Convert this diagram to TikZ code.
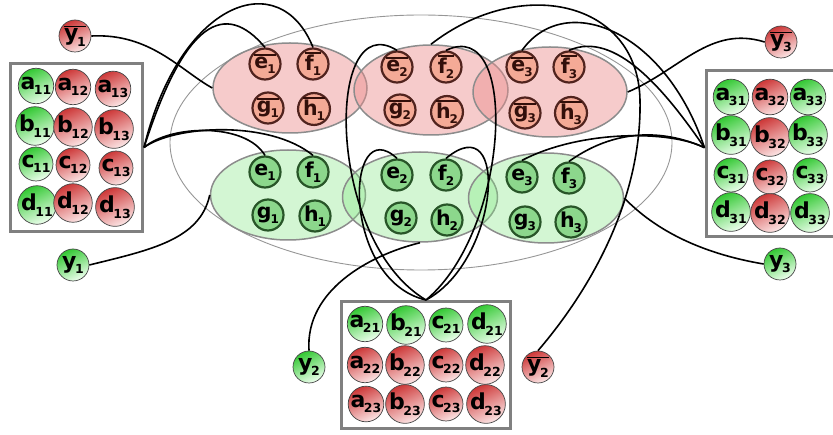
\documentclass[tikz,border=0pt]{standalone}
\usepackage{fontspec}
\setmainfont{DejaVu Sans}
\usetikzlibrary{shapes.geometric}
\definecolor{gtop}{RGB}{50,200,50}
\definecolor{gbot}{RGB}{238,255,238}
\definecolor{rtop}{RGB}{205,55,55}
\definecolor{rbot}{RGB}{252,230,230}
\definecolor{cborder}{RGB}{70,70,70}
\definecolor{salmon}{RGB}{244,170,150}
\definecolor{brownb}{RGB}{80,35,30}
\definecolor{browntxt}{RGB}{50,15,10}
\definecolor{lgreen}{RGB}{140,215,140}
\definecolor{dgreenb}{RGB}{40,85,40}
\definecolor{ellred}{RGB}{235,140,140}
\definecolor{ellgreen}{RGB}{130,230,130}
\definecolor{ellgray}{RGB}{140,140,140}
\definecolor{biggray}{RGB}{150,150,150}
\definecolor{boxgray}{RGB}{128,128,128}
\newcommand\lab[2]{{\fontsize{22}{22}\selectfont\bfseries #1}\kern-1.5pt\raisebox{-5.5pt}{\fontsize{12.5}{12.5}\selectfont\bfseries #2}}
\newcommand\elab[2]{{\fontsize{20.5}{20.5}\selectfont\bfseries #1}\kern-1pt\raisebox{-5pt}{\fontsize{12}{12}\selectfont\bfseries #2}}
\newcommand\obar[1]{\vbox{\hrule height 1.4pt\kern1.2pt\hbox{#1}}}
\tikzset{
  bc/.style={circle, minimum size=32pt, inner sep=0pt, draw=cborder, line width=0.7pt},
  gcirc/.style={bc, top color=gtop, bottom color=gbot, shading angle=25},
  rcirc/.style={bc, top color=rtop, bottom color=rbot, shading angle=25},
  ercirc/.style={circle, minimum size=31pt, inner sep=0pt, draw=brownb, line width=2.2pt, fill=salmon, text=browntxt},
  egcirc/.style={circle, minimum size=31pt, inner sep=0pt, draw=dgreenb, line width=2.2pt, fill=lgreen, text=black},
  rell/.style={ellipse, minimum width=154pt, minimum height=90pt, inner sep=0pt, draw=ellgray, line width=1.5pt, fill=ellred, fill opacity=0.45},
  gell/.style={ellipse, minimum width=155pt, minimum height=90pt, inner sep=0pt, draw=ellgray, line width=1.5pt, fill=ellgreen, fill opacity=0.35},
  bigell/.style={ellipse, minimum width=502pt, minimum height=255pt, inner sep=0pt, draw=biggray, line width=0.9pt},
  boxst/.style={rectangle, draw=boxgray, line width=3pt, fill=white, inner sep=0pt},
  conn/.style={black, line width=1.6pt},
}
\begin{document}
\begin{tikzpicture}[x=1pt,y=-1pt]
\useasboundingbox (0,0) rectangle (833,435);
% big ellipse
\node[bigell] (BIG) at (421,142.5) {};
% group ellipses
\node[rell] (R1) at (290,88) {};
\node[rell] (R2) at (431,90) {};
\node[rell] (R3) at (550,92) {};
\node[gell] (G1) at (288,195) {};
\node[gell] (G2) at (420,197) {};
\node[gell] (G3) at (546,198) {};
% boxes
\node[boxst, minimum width=132pt, minimum height=168pt] (LB) at (76.5,147.5) {};
\node[boxst, minimum width=169pt, minimum height=127pt] (BB) at (426,365) {};
\node[boxst, minimum width=130pt, minimum height=166pt] (RB) at (771,153.5) {};
% left box circles
\node[gcirc] (a11) at (36,86) {\lab{a}{11}};
\node[rcirc] (a12) at (73,87) {\lab{a}{12}};
\node[rcirc] (a13) at (113,89) {\lab{a}{13}};
\node[gcirc] (b11) at (35,126) {\lab{b}{11}};
\node[rcirc] (b12) at (73,127) {\lab{b}{12}};
\node[rcirc] (b13) at (114,129) {\lab{b}{13}};
\node[gcirc] (c11) at (36,164) {\lab{c}{11}};
\node[rcirc] (c12) at (73,165) {\lab{c}{12}};
\node[rcirc] (c13) at (116,168) {\lab{c}{13}};
\node[gcirc] (d11) at (37,205) {\lab{d}{11}};
\node[rcirc] (d12) at (73,203) {\lab{d}{12}};
\node[rcirc] (d13) at (115,207) {\lab{d}{13}};
% bottom box circles
\node[gcirc] (a21) at (365,324) {\lab{a}{21}};
\node[gcirc] (b21) at (406,325) {\lab{b}{21}};
\node[gcirc] (c21) at (446,325) {\lab{c}{21}};
\node[gcirc] (d21) at (487,324) {\lab{d}{21}};
\node[rcirc] (a22) at (365,365) {\lab{a}{22}};
\node[rcirc] (b22) at (405,365) {\lab{b}{22}};
\node[rcirc] (c22) at (446,365) {\lab{c}{22}};
\node[rcirc] (d22) at (485,365) {\lab{d}{22}};
\node[rcirc] (a23) at (366,404) {\lab{a}{23}};
\node[rcirc] (b23) at (405,404) {\lab{b}{23}};
\node[rcirc] (c23) at (446,404) {\lab{c}{23}};
\node[rcirc] (d23) at (486,404) {\lab{d}{23}};
% right box circles
\node[gcirc] (a31) at (731,97) {\lab{a}{31}};
\node[rcirc] (a32) at (770,97) {\lab{a}{32}};
\node[gcirc] (a33) at (808,97) {\lab{a}{33}};
\node[gcirc] (b31) at (731,135) {\lab{b}{31}};
\node[rcirc] (b32) at (770,137) {\lab{b}{32}};
\node[gcirc] (b33) at (808,135) {\lab{b}{33}};
\node[gcirc] (c31) at (731,175) {\lab{c}{31}};
\node[rcirc] (c32) at (770,177) {\lab{c}{32}};
\node[gcirc] (c33) at (810,175) {\lab{c}{33}};
\node[gcirc] (d31) at (731,212) {\lab{d}{31}};
\node[rcirc] (d32) at (770,213) {\lab{d}{32}};
\node[gcirc] (d33) at (810,213) {\lab{d}{33}};
% ellipse circles (red)
\node[ercirc] (eb1) at (265,64) {\obar{\elab{e}{1}}};
\node[ercirc] (fb1) at (313,64) {\obar{\elab{f}{1}}};
\node[ercirc] (gb1) at (268,108) {\obar{\elab{g}{1}}};
\node[ercirc] (hb1) at (314,109) {\obar{\elab{h}{1}}};
\node[ercirc] (eb2) at (397,67) {\obar{\elab{e}{2}}};
\node[ercirc] (fb2) at (446,67) {\obar{\elab{f}{2}}};
\node[ercirc] (gb2) at (400,110) {\obar{\elab{g}{2}}};
\node[ercirc] (hb2) at (447,112) {\obar{\elab{h}{2}}};
\node[ercirc] (eb3) at (522,67) {\obar{\elab{e}{3}}};
\node[ercirc] (fb3) at (569,67) {\obar{\elab{f}{3}}};
\node[ercirc] (gb3) at (525,113) {\obar{\elab{g}{3}}};
\node[ercirc] (hb3) at (571,113) {\obar{\elab{h}{3}}};
% ellipse circles (green)
\node[egcirc] (e1) at (265,172) {\elab{e}{1}};
\node[egcirc] (f1) at (313,172) {\elab{f}{1}};
\node[egcirc] (g1) at (268,215) {\elab{g}{1}};
\node[egcirc] (h1) at (315,216) {\elab{h}{1}};
\node[egcirc] (e2) at (397,175) {\elab{e}{2}};
\node[egcirc] (f2) at (446,175) {\elab{f}{2}};
\node[egcirc] (g2) at (401,218) {\elab{g}{2}};
\node[egcirc] (h2) at (447,220) {\elab{h}{2}};
\node[egcirc] (e3) at (522,177) {\elab{e}{3}};
\node[egcirc] (f3) at (569,178) {\elab{f}{3}};
\node[egcirc] (g3) at (525,222) {\elab{g}{3}};
\node[egcirc] (h3) at (571,222) {\elab{h}{3}};
% y nodes
\node[rcirc] (yb1) at (75,36) {\obar{\lab{y}{1}}};
\node[gcirc] (y1) at (73,265) {\lab{y}{1}};
\node[gcirc] (y2) at (309,367) {\lab{y}{2}};
\node[rcirc] (yb2) at (538,367) {\obar{\lab{y}{2}}};
\node[rcirc] (yb3) at (781,42) {\obar{\lab{y}{3}}};
\node[gcirc] (y3) at (780,264) {\lab{y}{3}};
% connectors: left box
\draw[conn] (LB.east) .. controls (185,20) and (225,0) .. (eb1.north);
\draw[conn] (LB.east) .. controls (180,0) and (280,-35) .. (fb1.north);
\draw[conn] (LB.east) .. controls (170,125) and (245,122) .. (e1.north);
\draw[conn] (LB.east) .. controls (175,125) and (270,120) .. (f1.north);
% connectors: bottom box
\draw[conn] (BB.north) .. controls (325,240) and (325,5) .. (eb2.north);
\draw[conn] (BB.north) .. controls (510,230) and (520,15) .. (fb2.north);
\draw[conn] (BB.north) .. controls (340,280) and (345,110) .. (e2.north);
\draw[conn] (BB.north) .. controls (500,260) and (510,105) .. (f2.north);
% connectors: right box
\draw[conn] (RB.175) .. controls (665,30) and (565,-10) .. (eb3.north);
\draw[conn] (RB.175) .. controls (665,90) and (615,30) .. (fb3.north);
\draw[conn] (RB.175) .. controls (670,130) and (580,130) .. (e3.north);
\draw[conn] (RB.175) .. controls (670,132) and (620,125) .. (f3.north);
% connectors: y nodes
\draw[conn] (yb1.east) .. controls (150,33) and (180,70) .. (R1.west);
\draw[conn] (y1.east) .. controls (150,250) and (200,240) .. (G1.west);
\draw[conn] (y2.north) .. controls (305,290) and (370,255) .. (G2.south);
\coordinate (yb2mid) at (640,100);
\draw[conn] (yb2.north) .. controls (590,290) and (642,200) .. (yb2mid)
  .. controls (638,0) and (520,-25) .. (R2.north);
\draw[conn] (yb3.west) .. controls (710,25) and (680,70) .. (R3.east);
\draw[conn] (y3.west) .. controls (710,255) and (660,235) .. (G3.east);
\end{tikzpicture}
\end{document}
